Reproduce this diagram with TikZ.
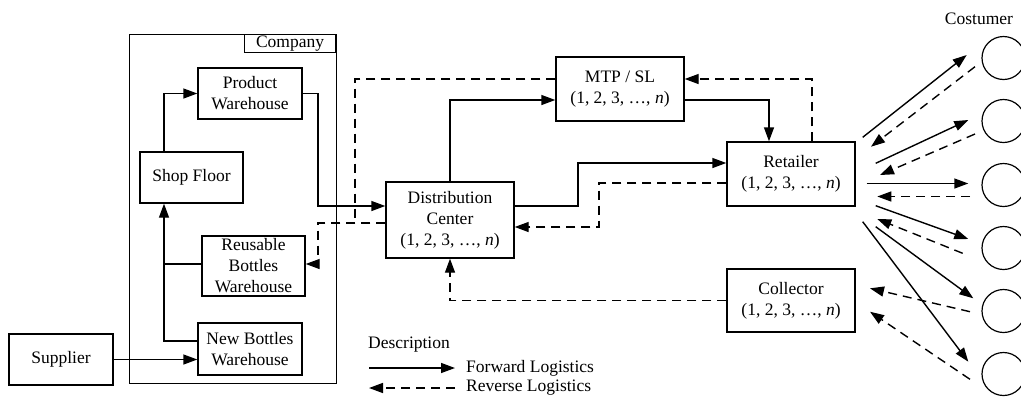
\documentclass[tikz,border=0pt]{standalone}
\usepackage{fontspec}
\setmainfont{Liberation Serif}
\usetikzlibrary{arrows.meta,calc}
\begin{document}
\begin{tikzpicture}[x=1pt,y=-1pt,
  every node/.style={font=\fontsize{17.5}{21}\selectfont},
  box/.style={draw,line width=1.4pt,inner sep=0pt,align=center},
  fwd/.style={line width=1.4pt,-{Triangle[length=14pt,width=10pt]}},
  rev/.style={line width=1.4pt,dash pattern=on 9pt off 6pt,-{Triangle[length=14pt,width=10pt]}},
  ln/.style={line width=1.4pt},
  dln/.style={line width=1.4pt,dash pattern=on 9pt off 6pt},
  cust/.style={draw,circle,line width=1.2pt,minimum size=43pt,inner sep=0pt}]
\useasboundingbox (0,0) rectangle (1021,400);
% company frame
\draw[line width=0.9pt] (129,34) rectangle (336,383);
\node[draw,line width=0.9pt,inner sep=0pt,minimum width=91pt,minimum height=18pt,anchor=north east] (complabel) at (336,34) {Company};
% boxes
\node[box,minimum width=104pt,minimum height=51pt] (PW) at (250,93.5) {Product\\Warehouse};
\node[box,minimum width=103pt,minimum height=51pt] (SF) at (191.5,177.5) {Shop Floor};
\node[box,minimum width=103pt,minimum height=60pt] (RBW) at (253.5,266) {Reusable\\Bottles\\Warehouse};
\node[box,minimum width=104pt,minimum height=52pt] (NBW) at (250,349) {New Bottles\\Warehouse};
\node[box,minimum width=104pt,minimum height=51pt] (Sup) at (61,359.5) {Supplier};
\node[box,minimum width=128pt,minimum height=76pt] (DC) at (450,220) {Distribution\\Center\\(1, 2, 3, …, \textit{n})};
\node[box,minimum width=128pt,minimum height=64pt] (MTP) at (620,89) {MTP / SL\\(1, 2, 3, …, \textit{n})};
\node[box,minimum width=128pt,minimum height=64pt] (Ret) at (791,174) {Retailer\\(1, 2, 3, …, \textit{n})};
\node[box,minimum width=128pt,minimum height=63pt] (Col) at (791,300.5) {Collector\\(1, 2, 3, …, \textit{n})};
% customers
\node (costlabel) at (979,19) {Costumer};
\node[cust] (c1) at (1003.5,58) {};
\node[cust] (c2) at (1003.5,121) {};
\node[cust] (c3) at (1003.5,185) {};
\node[cust] (c4) at (1003.5,248) {};
\node[cust] (c5) at (1003.5,311) {};
\node[cust] (c6) at (1003.5,374) {};
% company internal flows
\draw[fwd] (Sup.east) -- (NBW.west |- Sup.east);
\draw[fwd] ([yshift=8pt]NBW.west) -| ([xshift=-27.5pt]SF.south);
\draw[ln] ([yshift=2pt]RBW.west) -- ++(-38,0);
\draw[fwd] ([xshift=-27.5pt]SF.north) |- (PW.west);
\draw[fwd] (PW.east) -| (318,206) -- ([yshift=14pt]DC.west);
% reverse to reusable bottles
\draw[dln] ([yshift=10pt]MTP.west) -| (355,223);
\draw[rev] ([yshift=-3pt]DC.west) -- (318,223) |- ([yshift=2pt]RBW.east);
% DC <-> MTP / Retailer / Collector
\draw[fwd] (DC.north) |- ([yshift=-11pt]MTP.west);
\draw[fwd] ([yshift=14pt]DC.east) -- (578,206) |- ([yshift=11pt]Ret.west);
\draw[rev] ([yshift=-9pt]Ret.west) -- (599,183) |- ([yshift=-7pt]DC.east);
\draw[rev] (Col.west) -| (DC.south);
\draw[fwd] ([yshift=-11pt]MTP.east) -| ([xshift=-22pt]Ret.north);
\draw[rev] ([xshift=21pt]Ret.north) |- ([yshift=10pt]MTP.east);
% retailer <-> customers
\coordinate (f1s) at (862.7,137.3); \coordinate (f1e) at (966.7,55);
\coordinate (r1s) at (975,66.7);    \coordinate (r1e) at (871,146.7);
\coordinate (f2s) at (875.7,163.3); \coordinate (f2e) at (968.3,120);
\coordinate (r2s) at (975,134);     \coordinate (r2e) at (880,175);
\coordinate (f3s) at (866.7,183.5); \coordinate (f3e) at (968.3,183.5);
\coordinate (r3s) at (970,196.5);   \coordinate (r3e) at (877.3,196.5);
\coordinate (f4s) at (875.7,205.7); \coordinate (f4e) at (968.3,239);
\coordinate (r4s) at (962.7,253.3); \coordinate (r4e) at (877.3,219);
\coordinate (f5s) at (875.7,226.7); \coordinate (f5e) at (973.3,298.3);
\coordinate (r5s) at (970,311.7);   \coordinate (r5e) at (870,288.3);
\coordinate (f6s) at (862.7,221.7); \coordinate (f6e) at (968.3,361.7);
\coordinate (r6s) at (970,379.3);   \coordinate (r6e) at (870,311.7);
\foreach \i in {1,...,6}{
  \draw[fwd] (f\i s) -- (f\i e);
  \draw[rev] (r\i s) -- (r\i e);
}
% legend
\node[anchor=west,inner sep=0pt] (desc) at (368,345) {Description};
\coordinate (l1a) at (369,368); \coordinate (l1b) at (455,368);
\coordinate (l2a) at (455,388); \coordinate (l2b) at (369,388);
\draw[fwd] (l1a) -- (l1b);
\draw[rev] (l2a) -- (l2b);
\node[anchor=west,inner sep=0pt] (fl) at (466,368) {Forward Logistics};
\node[anchor=west,inner sep=0pt] (rl) at (466,388) {Reverse Logistics};
\end{tikzpicture}
\end{document}
